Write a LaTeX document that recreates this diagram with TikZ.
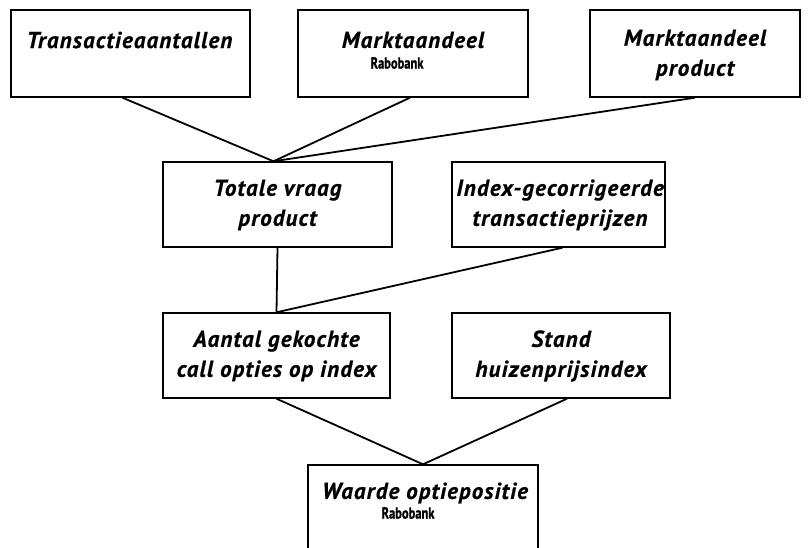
\documentclass[tikz,border=0pt]{standalone}
\usepackage{fontspec}
\usepackage{graphicx}
\setmainfont{PT Sans}
\newfontfamily\heavyfont[LetterSpace=5, BoldItalicFont={PT Sans Bold Italic}, BoldItalicFeatures={FakeBold=0.6}, BoldFont={PT Sans Bold}, BoldFeatures={FakeBold=0.8}]{PT Sans}
\newfontfamily\smallfont[BoldFont={PT Sans Bold}, BoldFeatures={FakeBold=1.2}]{PT Sans}
\begin{document}
\begin{tikzpicture}[x=1pt,y=-1pt,
  box/.style={draw=black, line width=1.4pt, fill=white, inner sep=0pt},
  lbl/.style={font=\heavyfont\fontsize{23}{30}\selectfont\bfseries\itshape, align=center, inner sep=0pt},
  small/.style={font=\smallfont\fontsize{16}{16}\selectfont\bfseries, inner sep=0pt},
  conn/.style={draw=black, line width=1.8pt}]
\useasboundingbox (0,0) rectangle (810,548);
\clip (0,0) rectangle (810,548);
% boxes
\node[box, minimum width=239pt, minimum height=87pt] (A) at (130.5,53.5) {};
\node[box, minimum width=230pt, minimum height=87pt] (B) at (413,53.5) {};
\node[box, minimum width=210pt, minimum height=87pt] (C) at (695,53.5) {};
\node[box, minimum width=229pt, minimum height=85pt] (D) at (277.5,204.5) {};
\node[box, minimum width=213pt, minimum height=85pt] (E) at (558.5,204.5) {};
\node[box, minimum width=227pt, minimum height=85pt] (F) at (276.5,355.5) {};
\node[box, minimum width=218pt, minimum height=85pt] (G) at (561,355.5) {};
\node[box, minimum width=230pt, minimum height=100pt] (H) at (423,515) {};
% texts
\node[lbl] (tA) at (129.5,40) {Transactieaantallen};
\node[lbl] (tB) at (413,40) {Marktaandeel};
\node[small] (sB) at (397,63) {\scalebox{0.78}[1]{Rabobank}};
\node[lbl] (tC) at (695,55) {Marktaandeel\\product};
\node[lbl] (tD) at (277.5,205) {Totale vraag\\product};
\node[lbl] (tE) at (560,205) {Index-gecorrigeerde\\transactieprijzen};
\node[lbl] (tF) at (276.5,356) {Aantal gekochte\\call opties op index};
\node[lbl] (tG) at (561,356) {Stand\\huizenprijsindex};
\node[lbl] (tH) at (425,493) {Waarde optiepositie};
\node[small] (sH) at (408,513) {\scalebox{0.78}[1]{Rabobank}};
% connectors
\draw[conn] ([xshift=-8pt]A.south) -- ([xshift=-4pt]D.north);
\draw[conn] ([xshift=-3pt]B.south) -- ([xshift=-4pt]D.north);
\draw[conn] (C.south) -- ([xshift=-4pt]D.north);
\draw[conn] (D.south) -- (F.north);
\draw[conn] ([xshift=4pt]E.south) -- (F.north);
\draw[conn] (F.south) -- (H.north);
\draw[conn] ([xshift=6pt]G.south) -- (H.north);
\end{tikzpicture}
\end{document}
